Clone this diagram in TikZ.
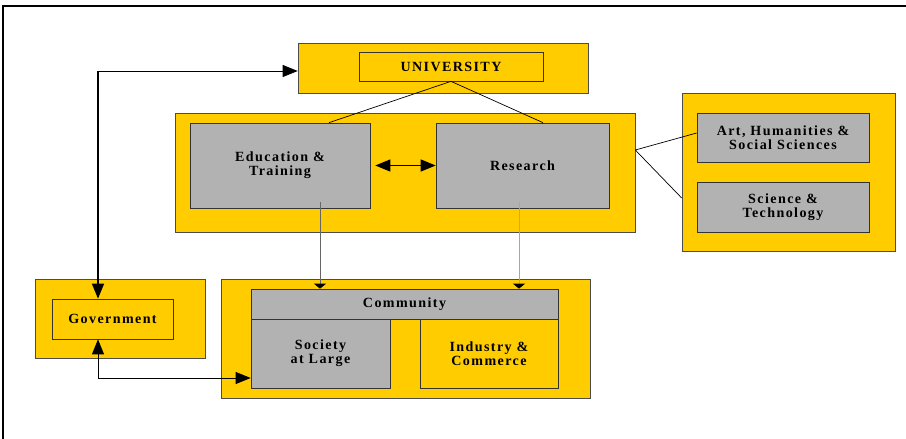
\documentclass[tikz,border=0pt]{standalone}
\usepackage{fontspec}
\setmainfont{Liberation Serif}[LetterSpace=10]
\usepackage{tikz}
\usetikzlibrary{arrows.meta,positioning}
\definecolor{uniYellow}{HTML}{FFCC00}
\definecolor{boxGray}{HTML}{B2B2B2}

\begin{document}
\begin{tikzpicture}[x=0.02cm, y=-0.02cm, font=\bfseries\fontsize{8}{8}\selectfont,
  outer/.style = {draw=black!70, fill=uniYellow, inner sep=0pt},
  grey/.style = {draw=black!80, fill=boxGray, align=center, inner sep=0pt},
  plain/.style = {draw=black!80, fill=uniYellow, align=center, inner sep=0pt},
  big/.style = {-{Triangle[length=3mm,width=2.4mm]}},
  small/.style = {-{Triangle[length=1mm,width=2.4mm,color=black]}}]
\useasboundingbox (0,0) rectangle (906,439);
\draw[line width=1pt] (906,6) -- (3,6) -- (3,439);

% outer yellow blocks
\node[outer, minimum width=5.8cm, minimum height=1cm] (uniBox) at (443,68) {};
\node[outer, minimum width=9.2cm, minimum height=2.38cm] (midBox) at (405,172.5) {};
\node[outer, minimum width=4.26cm, minimum height=3.16cm] (fieldBox) at (788.5,172) {};
\node[outer, minimum width=3.4cm, minimum height=1.58cm] (govBox) at (120,318.5) {};
\node[outer, minimum width=7.38cm, minimum height=2.38cm] (comBox) at (405.5,338.5) {};

% inner blocks
\node[plain, minimum width=3.68cm, minimum height=0.58cm] (uni) at (451,66.5) {UNIVERSITY};
\node[grey, minimum width=3.6cm, minimum height=1.7cm] (edu) at (280,165.5) {Education \&\\Training};
\node[grey, minimum width=3.46cm, minimum height=1.7cm] (research) at (522.5,165.5) {Research};
\node[grey, minimum width=3.44cm, minimum height=0.98cm] (art) at (783,137.5) {Art, Humanities \&\\Social Sciences};
\node[grey, minimum width=3.44cm, minimum height=1cm] (sci) at (783,207) {Science \&\\Technology};
\node[plain, minimum width=2.42cm, minimum height=0.8cm] (gov) at (112.5,319) {Government};
\node[grey, minimum width=6.14cm, minimum height=0.6cm] (community) at (404.5,304) {Community};
\node[grey, minimum width=2.78cm, minimum height=1.38cm] (society) at (320.5,353.5) {Society\\at Large};
\node[plain, minimum width=2.76cm, minimum height=1.38cm] (industry) at (489,353.5) {Industry \&\\Commerce};

% links
\draw (uni.south) -- ([xshift=0.98cm]edu.north);
\draw (uni.south) -- ([xshift=0.41cm]research.north);
\draw[thick, {Triangle[length=3mm,width=2.4mm]}-{Triangle[length=3mm,width=2.4mm]}] ([xshift=0.1cm]edu.east) -- (research.west);
\draw ([yshift=0.45cm]midBox.east) -- ([yshift=0.09cm]art.west);
\draw ([yshift=0.45cm]midBox.east) -- ([yshift=-0.52cm]fieldBox.west);

\coordinate (eduOut) at ([xshift=0.8cm,yshift=0.12cm]edu.south);
\coordinate (resOut) at ([xshift=-0.07cm,yshift=0.12cm]research.south);
\draw[small, black!60] (eduOut) -- (eduOut |- community.north);
\draw[small, black!35] (resOut) -- (resOut |- community.north);

\coordinate (govUp) at (98,71);
\coordinate (govDown) at (98,378);
\draw[big] (govUp) -- (govUp -| uniBox.west);
\draw[big, thick] (govUp) -- (govUp |- gov.north);
\draw[big] (govDown) -- (govDown |- gov.south);
\draw[big] (govDown) -- (govDown -| society.west);
\end{tikzpicture}
\end{document}
